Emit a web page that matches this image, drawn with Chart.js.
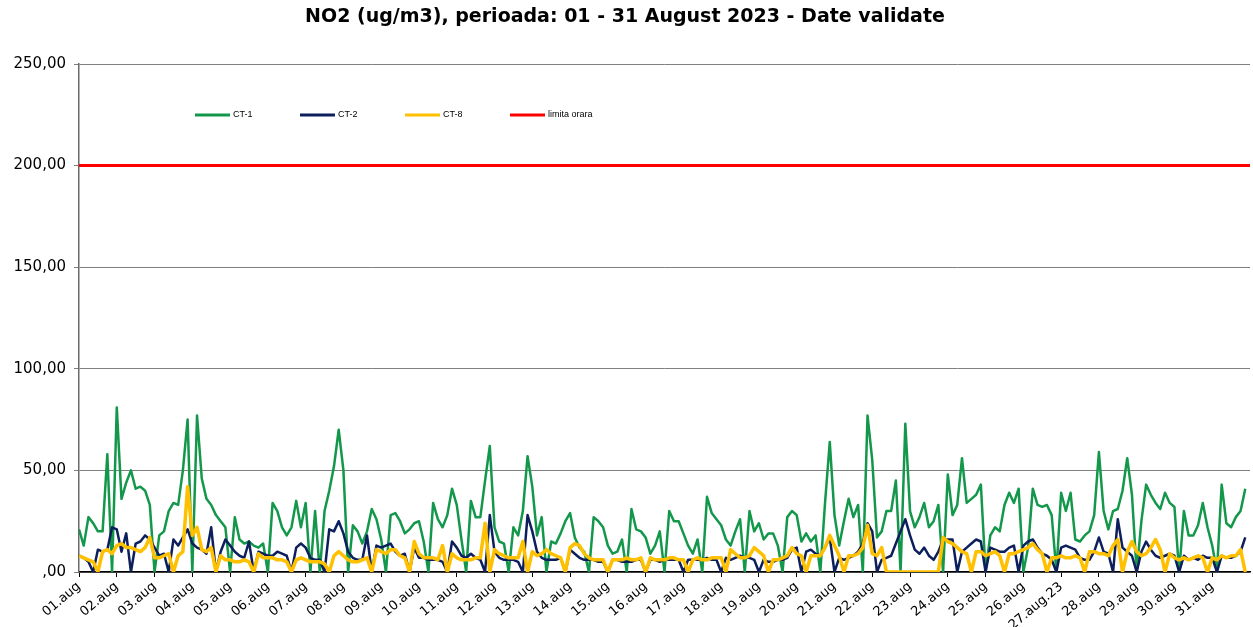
<!DOCTYPE html>
<html><head><meta charset="utf-8">
<script src="https://cdn.jsdelivr.net/npm/chart.js"></script>
<style>html,body{margin:0;padding:0;background:#fff}#wrap{width:1253px;height:627px;position:relative}</style>
</head><body><div id="wrap"><canvas id="c"></canvas></div>
<script>
const titleText = "NO2 (ug/m3), perioada: 01 - 31 August 2023 - Date validate";
const seriesNames = ["CT-1", "CT-2", "CT-8", "limita orara"];
const dayLabels = ["01.aug","02.aug","03.aug","04.aug","05.aug","06.aug","07.aug","08.aug","09.aug","10.aug",
  "11.aug","12.aug","13.aug","14.aug","15.aug","16.aug","17.aug","18.aug","19.aug","20.aug",
  "21.aug","22.aug","23.aug","24.aug","25.aug","26.aug","27.aug.23","28.aug","29.aug","30.aug","31.aug"];
const yTickLabels = [",00", "50,00", "100,00", "150,00", "200,00", "250,00"];
const samplesPerDay = 8; // one value every 3 hours

const ct1 = [
  21,13,27,24,20,20,58,0,
  81,36,44,50,41,42,40,33,
  0,18,20,30,34,33,50,75,
  0,77,46,36,33,28,25,22,
  0,27,16,14,15,13,12,14,
  0,34,30,22,18,22,35,22,
  34,0,30,0,30,40,52,70,
  50,0,23,20,14,20,31,26,
  16,0,28,29,25,19,21,24,
  25,15,0,34,26,22,28,41,
  33,16,0,35,27,27,45,62,
  22,15,14,0,22,18,30,57,
  42,18,27,0,15,14,19,25,
  29,17,12,10,0,27,25,22,
  13,9,10,16,0,31,21,20,
  17,9,13,20,0,30,25,25,
  19,13,9,16,0,37,29,26,
  23,16,13,20,26,0,30,20,
  24,16,19,19,13,0,27,30,
  28,15,19,15,18,0,34,64,
  28,13,25,36,27,33,0,77,
  55,17,20,30,30,45,0,73,
  30,22,27,34,22,25,33,0,
  48,28,33,56,34,36,38,43,
  0,18,22,20,33,39,34,41,
  0,12,41,33,32,33,28,0,
  39,30,39,16,15,18,20,28,
  59,30,21,30,31,40,56,38,
  0,25,43,38,34,31,39,34,
  32,0,30,18,18,23,34,22,
  13,0,43,24,22,27,30,41
];
const ct2 = [
  8,7,5,0,11,10,11,22,
  21,10,19,0,14,15,18,16,
  12,8,9,0,16,13,17,21,
  14,12,11,9,22,0,10,16,
  13,10,8,7,15,0,10,9,
  8,8,10,9,8,0,12,14,
  12,7,6,6,0,21,20,25,
  19,10,7,6,6,18,0,13,
  12,13,14,10,8,9,0,12,
  7,7,6,6,6,5,0,15,
  12,8,7,9,7,6,0,28,
  10,7,6,6,6,5,0,28,
  20,10,7,6,6,6,7,0,
  11,9,7,6,6,6,5,5,
  0,6,6,5,5,5,6,6,
  0,6,6,5,6,6,6,6,
  0,6,6,6,6,7,6,6,
  0,7,6,7,8,7,7,6,
  0,6,5,5,6,6,7,11,
  12,0,10,11,9,8,12,17,
  0,7,6,7,8,10,14,24,
  20,0,6,7,8,14,20,26,
  18,11,9,12,8,6,10,16,
  16,16,0,10,12,14,16,15,
  0,12,11,10,10,12,13,0,
  13,15,16,12,9,8,6,0,
  12,13,12,11,7,6,6,10,
  17,10,9,0,26,12,10,8,
  0,10,15,11,8,7,8,9,
  8,0,8,6,7,6,8,7,
  7,0,8,7,7,8,10,17
];
const ct8 = [
  8,7,6,5,0,10,11,9,
  13,14,12,12,11,10,12,17,
  7,7,8,9,0,8,10,42,
  18,22,11,10,12,0,8,6,
  6,5,5,6,5,0,9,7,
  7,7,6,6,5,0,6,7,
  6,5,5,5,4,0,8,10,
  8,6,5,5,6,7,0,11,
  10,9,11,11,8,7,0,15,
  9,7,7,7,6,13,0,9,
  7,6,6,6,7,7,24,0,
  11,9,8,7,7,7,15,0,
  10,8,9,11,9,8,7,0,
  12,14,13,9,7,6,6,6,
  0,6,6,6,7,6,6,7,
  0,7,6,6,6,7,7,6,
  6,0,6,7,6,6,7,7,
  7,0,11,9,7,7,8,12,
  10,8,0,6,6,7,8,12,
  9,8,0,8,8,8,12,18,
  13,8,0,8,8,9,12,23,
  9,8,12,0,0,0,0,0,
  0,0,0,0,0,0,0,17,
  15,14,12,10,9,0,10,10,
  8,9,10,8,0,9,9,10,
  11,12,14,11,9,0,7,7,
  8,7,7,8,7,0,10,10,
  9,9,8,13,16,0,10,15,
  10,8,9,12,16,11,0,9,
  7,6,7,6,7,8,7,0,
  7,6,8,7,8,8,11,0
];
const limitaOrara = 200;

const toPts = arr => arr.map((v, i) => ({ x: i / samplesPerDay, y: v }));
const colors = { ct1: '#13974B', ct2: '#0C1F5C', ct8: '#FFC000', lim: '#FF0000' };

const inLegend = {
  id: 'inLegend',
  afterDatasetsDraw(chart) {
    const ctx = chart.ctx;
    const startX = 195, y = 115, step = 105, lineLen = 35;
    ctx.save();
    ctx.font = '9px "Liberation Sans", Arial, sans-serif';
    ctx.textBaseline = 'middle';
    ctx.textAlign = 'left';
    ctx.fillStyle = '#000';
    chart.data.datasets.forEach((ds, i) => {
      const x = startX + i * step;
      ctx.strokeStyle = ds.borderColor;
      ctx.lineWidth = 3;
      ctx.beginPath(); ctx.moveTo(x, y); ctx.lineTo(x + lineLen, y); ctx.stroke();
      ctx.fillText(ds.label, x + lineLen + 3, y);
    });
    ctx.restore();
  }
};

new Chart(document.getElementById('c'), {
  type: 'line',
  data: {
    datasets: [
      { label: seriesNames[0], data: toPts(ct1), borderColor: colors.ct1, borderWidth: 2.5, order: 3 },
      { label: seriesNames[1], data: toPts(ct2), borderColor: colors.ct2, borderWidth: 2.5, order: 2 },
      { label: seriesNames[2], data: toPts(ct8), borderColor: colors.ct8, borderWidth: 3.5, order: 1 },
      { label: seriesNames[3], data: [{ x: 0, y: limitaOrara }, { x: dayLabels.length, y: limitaOrara }], borderColor: colors.lim, borderWidth: 3, order: 0 }
    ]
  },
  options: {
    responsive: true, maintainAspectRatio: false, animation: false,
    layout: { padding: { left: 0, right: 3, top: 0, bottom: 0 } },
    elements: { point: { radius: 0, hoverRadius: 0 }, line: { tension: 0, borderJoinStyle: 'round', fill: false } },
    plugins: {
      legend: { display: false },
      tooltip: { enabled: false },
      title: {
        display: true, text: titleText, color: '#000',
        font: { family: "'DejaVu Sans', sans-serif", size: 19, weight: 'bold' },
        padding: { top: 6, bottom: 35.2 }
      }
    },
    scales: {
      x: {
        type: 'linear', min: 0, max: dayLabels.length,
        afterFit(s) { s.height = 55; },
        afterBuildTicks(s) { s.ticks = dayLabels.map((_, i) => ({ value: i })); },
        ticks: {
          autoSkip: false, minRotation: 40, maxRotation: 40, padding: 2, color: '#000',
          font: { family: "'DejaVu Sans', sans-serif", size: 13 },
          callback: (v) => dayLabels[v]
        },
        grid: { drawOnChartArea: false, drawTicks: true, tickLength: 5, color: '#000' },
        border: { display: true, color: '#000', width: 1.5 }
      },
      y: {
        min: 0, max: 250,
        afterFit(s) { s.width = 79; },
        ticks: {
          stepSize: 50, padding: 8, color: '#000',
          font: { family: "'DejaVu Sans', sans-serif", size: 15 },
          callback: (v) => yTickLabels[v / 50]
        },
        grid: { color: '#808080', lineWidth: 1, tickLength: 5, drawTicks: true },
        border: { color: '#6a6a6a', width: 1.5 }
      }
    }
  },
  plugins: [inLegend]
});
</script>
</body></html>
